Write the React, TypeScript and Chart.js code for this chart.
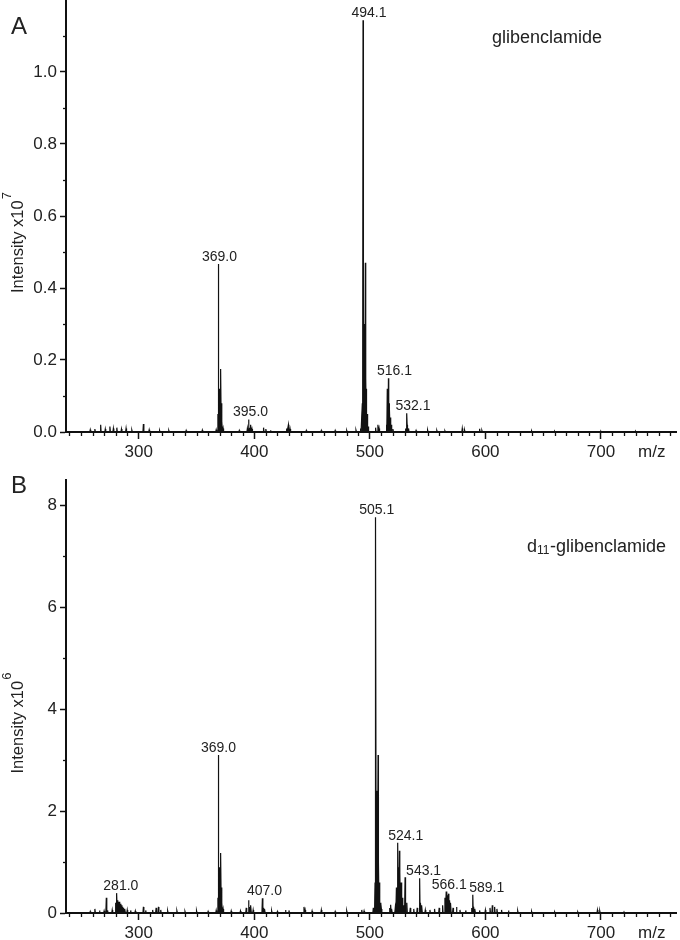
import React, { useEffect, useRef } from 'react';
import { Chart, registerables } from 'chart.js';
Chart.register(...registerables);

const FONT = '"Liberation Sans", Arial, Helvetica, sans-serif';
const INK = '#111';
const TEXT = '#222';

// shared m/z axis
const X_MIN = 237;
const X_MAX = 765;
const xTicks = [300, 400, 500, 600, 700];

// ---------- Panel A: glibenclamide (Intensity x10^7) ----------
const mzA = [258, 262, 267, 271, 275, 278, 281, 285, 289, 294, 304, 309, 318, 326, 341, 355, 367,
  368.5, 369.0, 369.5, 370.0, 370.5, 371.0, 371.5, 372.0, 373, 387, 394, 395.0, 396, 397, 398,
  408, 410, 414, 428, 429.5, 431, 445, 458, 470, 480, 488, 492, 493.5, 494.1, 494.6, 495.1,
  495.6, 496.1, 496.6, 497.1, 497.6, 498.5, 505, 507, 508, 514.5, 515.1, 515.6, 516.1, 516.6,
  517.1, 517.6, 518.5, 520, 531, 532.1, 532.6, 533.5, 540, 550, 558, 565, 580, 582, 595, 597,
  620, 640, 660, 700, 730];
const intA = [0.006, 0.008, 0.02, 0.008, 0.015, 0.01, 0.012, 0.008, 0.01, 0.005, 0.022, 0.006, 0.004, 0.004, 0.004, 0.005, 0.006,
  0.05, 0.467, 0.12, 0.1, 0.07, 0.175, 0.08, 0.03, 0.01, 0.004, 0.01, 0.035, 0.012, 0.02, 0.008,
  0.012, 0.008, 0.005, 0.01, 0.02, 0.008, 0.004, 0.004, 0.004, 0.004, 0.005, 0.01, 0.08, 1.144, 0.31, 0.3,
  0.22, 0.47, 0.15, 0.12, 0.05, 0.015, 0.012, 0.02, 0.01, 0.02, 0.12, 0.11, 0.149, 0.08,
  0.064, 0.04, 0.02, 0.008, 0.01, 0.052, 0.02, 0.01, 0.004, 0.005, 0.004, 0.003, 0.01, 0.005, 0.009, 0.004,
  0.003, 0.003, 0.002, 0.002, 0.002];
const labelsA = ['369.0', '395.0', '494.1', '516.1', '532.1'];
const labelMzA = [369.0, 395.0, 494.1, 516.1, 532.1];
const labelIntA = [0.467, 0.035, 1.144, 0.149, 0.052];
const yTicksA = [0, 0.2, 0.4, 0.6, 0.8, 1.0];

// ---------- Panel B: d11-glibenclamide (Intensity x10^6) ----------
const mzB = [258, 262, 266, 270, 271.9, 273, 277, 280, 281.0, 282, 283, 284, 285, 286, 287, 288, 290,
  293, 297, 304, 306, 312, 315, 317, 319, 325, 333, 340, 350, 360, 367, 368.5, 369.0, 369.5,
  370.0, 370.5, 371.0, 371.5, 372.0, 373, 380, 388, 393, 395, 396, 397, 399, 407.0, 408, 409,
  415, 420, 427, 430, 443, 444, 450, 458, 470, 480, 493, 495, 503, 504.5, 505.1, 505.6, 506.1,
  506.6, 507.1, 507.6, 508.1, 509, 510, 517, 518, 519, 522, 523, 524.1, 524.6, 525.1, 525.6,
  526.1, 526.6, 527.1, 528, 529, 530.5, 532, 535, 538, 541, 543.1, 544, 545, 548, 552, 556,
  560, 563, 565, 566.1, 567, 568, 569, 570, 572, 575, 578, 583, 588, 589.1, 590, 591, 595,
  600, 604, 606, 608, 610, 614, 620, 628, 640, 660, 680, 697, 699, 720];
const intB = [0.03, 0.08, 0.05, 0.04, 0.3, 0.05, 0.06, 0.2, 0.39, 0.25, 0.22, 0.18, 0.15, 0.12, 0.1, 0.08, 0.06,
  0.05, 0.04, 0.12, 0.05, 0.06, 0.1, 0.12, 0.06, 0.04, 0.04, 0.03, 0.04, 0.03, 0.05, 0.3, 3.1, 0.9,
  0.8, 0.6, 1.18, 0.5, 0.2, 0.08, 0.04, 0.04, 0.1, 0.25, 0.12, 0.15, 0.06, 0.29, 0.1, 0.08,
  0.04, 0.03, 0.06, 0.05, 0.12, 0.06, 0.04, 0.06, 0.03, 0.04, 0.06, 0.04, 0.1, 0.6, 7.77, 2.4, 2.3,
  1.2, 3.1, 1.0, 0.6, 0.2, 0.08, 0.1, 0.16, 0.08, 0.1, 0.5, 1.38, 0.9, 0.7, 1.22,
  0.8, 0.5, 0.6, 0.3, 0.15, 0.7, 0.2, 0.1, 0.08, 0.1, 0.68, 0.2, 0.15, 0.06, 0.06, 0.08,
  0.1, 0.15, 0.3, 0.42, 0.35, 0.38, 0.25, 0.2, 0.1, 0.12, 0.06, 0.05, 0.1, 0.36, 0.12, 0.08, 0.05,
  0.06, 0.1, 0.15, 0.12, 0.08, 0.06, 0.05, 0.04, 0.03, 0.02, 0.02, 0.06, 0.04, 0.02];
const labelsB = ['281.0', '369.0', '407.0', '505.1', '524.1', '543.1', '566.1', '589.1'];
const labelMzB = [281.0, 369.0, 407.0, 505.1, 524.1, 543.1, 566.1, 589.1];
const labelIntB = [0.39, 3.1, 0.29, 7.77, 1.38, 0.68, 0.42, 0.36];
const yTicksB = [0, 2, 4, 6, 8];

type PanelCfg = {
  letter: string;
  mz: number[];
  inten: number[];
  labels: string[];
  labelMz: number[];
  labelInt: number[];
  labelNudge: number[];
  yTicks: number[];
  yMax: number;
  yMinorStep: number;
  yDecimals: number;
  exponent: string;
  titleMain: string;
  titleSub: string;
  titleRest: string;
  titleX: number;
  titleY: number;
  letterY: number;
  padTop: number;
  xAxisHeight: number;
};

function profile(mz: number[], inten: number[]) {
  const idx = mz.map((_, i) => i).sort((a, b) => mz[a] - mz[b]);
  const w = 0.4;
  const pts: { x: number; y: number }[] = [{ x: X_MIN, y: 0 }];
  for (const i of idx) {
    pts.push({ x: mz[i] - w, y: 0 }, { x: mz[i], y: inten[i] }, { x: mz[i] + w, y: 0 });
  }
  pts.push({ x: X_MAX, y: 0 });
  return pts;
}

function makeDecor(cfg: PanelCfg) {
  return {
    id: 'decor' + cfg.letter,
    afterDraw(chart: any) {
      const ctx = chart.ctx as CanvasRenderingContext2D;
      const xs = chart.scales.x;
      const ys = chart.scales.y;
      const area = chart.chartArea;
      ctx.save();
      ctx.strokeStyle = INK;
      ctx.lineWidth = 1.3;
      // minor x ticks every 10
      for (let v = Math.ceil(X_MIN / 10) * 10; v <= X_MAX; v += 10) {
        if (xTicks.includes(v)) continue;
        const px = Math.round(xs.getPixelForValue(v)) + 0.5;
        ctx.beginPath();
        ctx.moveTo(px, area.bottom);
        ctx.lineTo(px, area.bottom + 4);
        ctx.stroke();
      }
      // minor y ticks
      for (let v = cfg.yMinorStep; v < cfg.yMax; v += cfg.yMinorStep) {
        if (cfg.yTicks.some((t) => Math.abs(t - v) < 1e-6)) continue;
        const py = Math.round(ys.getPixelForValue(v)) + 0.5;
        ctx.beginPath();
        ctx.moveTo(area.left - 3, py);
        ctx.lineTo(area.left, py);
        ctx.stroke();
      }
      ctx.fillStyle = TEXT;
      // peak labels
      ctx.font = `14px ${FONT}`;
      ctx.textAlign = 'center';
      ctx.textBaseline = 'alphabetic';
      cfg.labels.forEach((t, i) => {
        const px = xs.getPixelForValue(cfg.labelMz[i]) + (cfg.labelNudge[i] || 0);
        const py = ys.getPixelForValue(cfg.labelInt[i]);
        ctx.fillText(t, px, py - 3);
      });
      // m/z
      ctx.font = `17px ${FONT}`;
      ctx.textAlign = 'left';
      ctx.textBaseline = 'alphabetic';
      ctx.fillText('m/z', area.right - 38, area.bottom + 25);
      // panel letter
      ctx.font = `24px ${FONT}`;
      ctx.fillText(cfg.letter, 11, cfg.letterY);
      // compound title
      ctx.font = `18px ${FONT}`;
      let x = cfg.titleX;
      ctx.fillText(cfg.titleMain, x, cfg.titleY);
      x += ctx.measureText(cfg.titleMain).width;
      if (cfg.titleSub) {
        ctx.font = `12px ${FONT}`;
        ctx.fillText(cfg.titleSub, x, cfg.titleY + 2);
        x += ctx.measureText(cfg.titleSub).width + 0.5;
        ctx.font = `18px ${FONT}`;
      }
      ctx.fillText(cfg.titleRest, x, cfg.titleY);
      // y axis title (rotated, with superscript)
      const cy = (area.top + area.bottom) / 2;
      ctx.save();
      ctx.translate(18, cy + 77);
      ctx.rotate(-Math.PI / 2);
      ctx.font = `16.5px ${FONT}`;
      ctx.textAlign = 'left';
      ctx.textBaseline = 'middle';
      const main = 'Intensity x10';
      ctx.fillText(main, 0, 0);
      const mw = ctx.measureText(main).width;
      ctx.font = `13px ${FONT}`;
      ctx.fillText(cfg.exponent, mw + 1, -11);
      ctx.restore();
      ctx.restore();
    },
  };
}

function Panel({ cfg }: { cfg: PanelCfg }) {
  const ref = useRef<HTMLCanvasElement>(null);
  useEffect(() => {
    if (!ref.current) return;
    const chart = new Chart(ref.current, {
      type: 'line',
      data: {
        datasets: [
          {
            data: profile(cfg.mz, cfg.inten),
            borderColor: INK,
            backgroundColor: INK,
            borderWidth: 1.2,
            pointRadius: 0,
            fill: 'origin',
            tension: 0,
          },
        ],
      },
      options: {
        animation: false,
        responsive: false,
        maintainAspectRatio: false,
        events: [],
        layout: { padding: { top: cfg.padTop, right: 4, left: 0, bottom: 0 } },
        plugins: { legend: { display: false }, tooltip: { enabled: false } },
        scales: {
          x: {
            type: 'linear',
            min: X_MIN,
            max: X_MAX,
            afterBuildTicks: (s: any) => {
              s.ticks = xTicks.map((v) => ({ value: v }));
            },
            afterFit: (s: any) => {
              s.height = cfg.xAxisHeight;
              s.paddingLeft = 0;
              s.paddingRight = 0;
            },
            grid: { drawOnChartArea: false, drawTicks: true, tickLength: 7, tickWidth: 1.5, tickColor: INK },
            border: { display: true, color: INK, width: 2 },
            ticks: {
              font: { family: FONT, size: 17 },
              color: TEXT,
              padding: 3,
              maxRotation: 0,
              autoSkip: false,
              callback: (v: any) => String(v),
            },
          },
          y: {
            type: 'linear',
            min: 0,
            max: cfg.yMax,
            afterBuildTicks: (s: any) => {
              s.ticks = cfg.yTicks.map((v) => ({ value: v }));
            },
            afterFit: (s: any) => {
              s.width = 66;
              s.paddingTop = 0;
              s.paddingBottom = 0;
            },
            grid: { drawOnChartArea: false, drawTicks: true, tickLength: 6, tickWidth: 1.5, tickColor: INK },
            border: { display: true, color: INK, width: 2 },
            ticks: {
              font: { family: FONT, size: 17 },
              color: TEXT,
              padding: 3,
              autoSkip: false,
              callback: (v: any) => Number(v).toFixed(cfg.yDecimals),
            },
          },
        },
      },
      plugins: [makeDecor(cfg)],
    } as any);
    return () => chart.destroy();
  }, [cfg]);
  return <canvas ref={ref} width={680} height={470} style={{ display: 'block', width: 680, height: 470 }} />;
}

const cfgA: PanelCfg = {
  letter: 'A',
  mz: mzA,
  inten: intA,
  labels: labelsA,
  labelMz: labelMzA,
  labelInt: labelIntA,
  labelNudge: [1, 2, 6, 6, 6],
  yTicks: yTicksA,
  yMax: 1.2,
  yMinorStep: 0.1,
  yDecimals: 1,
  exponent: '7',
  titleMain: 'glibenclamide',
  titleSub: '',
  titleRest: '',
  titleX: 492,
  titleY: 43,
  letterY: 34,
  padTop: 0,
  xAxisHeight: 38,
};

const cfgB: PanelCfg = {
  letter: 'B',
  mz: mzB,
  inten: intB,
  labels: labelsB,
  labelMz: labelMzB,
  labelInt: labelIntB,
  labelNudge: [4, 0, 2, 1, 8, 4, 3, 14],
  yTicks: yTicksB,
  yMax: 8.5,
  yMinorStep: 1,
  yDecimals: 0,
  exponent: '6',
  titleMain: 'd',
  titleSub: '11',
  titleRest: '-glibenclamide',
  titleX: 527,
  titleY: 82,
  letterY: 23,
  padTop: 10,
  xAxisHeight: 27,
};

export default function App() {
  return (
    <div style={{ position: 'absolute', left: 0, top: 0, width: 680, height: 940, background: '#fff' }}>
      <Panel cfg={cfgA} />
      <Panel cfg={cfgB} />
    </div>
  );
}
